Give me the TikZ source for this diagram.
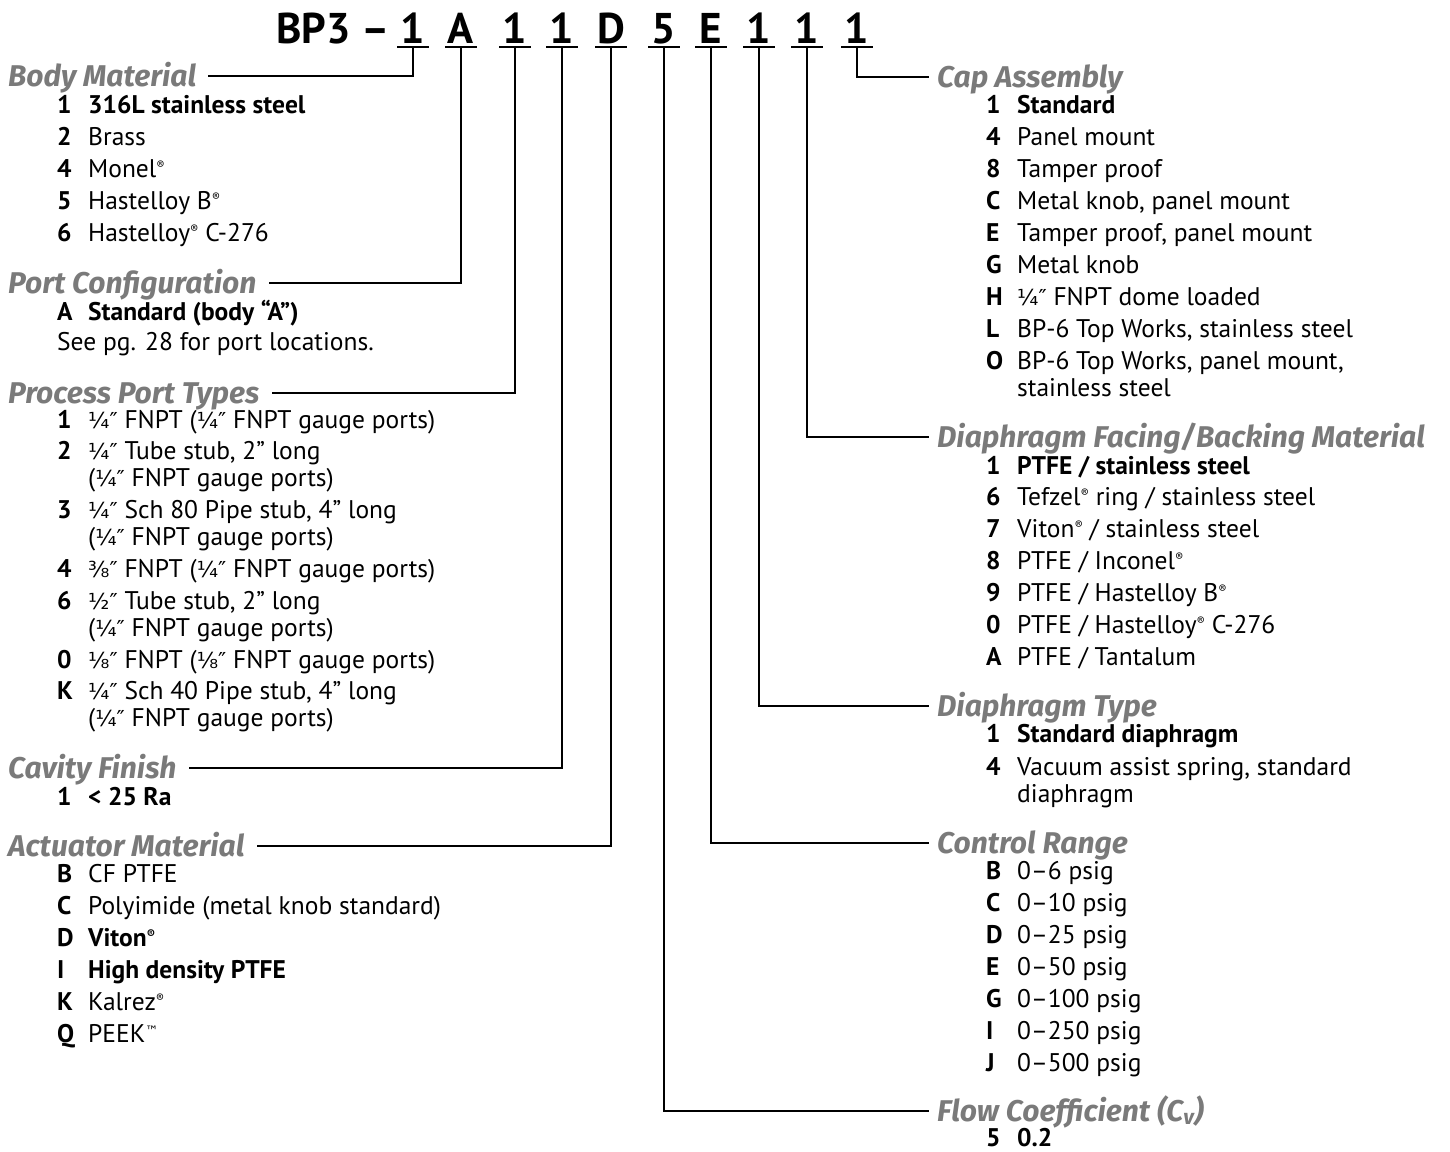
\documentclass[tikz,border=0pt]{standalone}
\usepackage{fontspec}
\usepackage{graphicx}
\setmainfont{PT Sans}
\newfontfamily\headfont{Fira Sans}
\newfontfamily\symfont{DejaVu Sans}
\usetikzlibrary{positioning,calc}
\definecolor{headgray}{RGB}{122,122,122}
\newcommand{\frc}[1]{{\symfont\fontsize{22}{22}\selectfont #1″}}
\newcommand{\reg}{\raisebox{0.6ex}{\fontsize{12}{12}\selectfont ®}}
\newcommand{\tmk}{\raisebox{0.55ex}{{\symfont\fontsize{13}{13}\selectfont ™}}}

\tikzset{
  code/.style={font=\fontsize{43}{43}\bfseries\selectfont, anchor=base, inner sep=0pt, outer sep=0pt, text depth=4pt, minimum width=32pt},
  head/.style={font=\headfont\fontsize{30}{30}\bfseries\itshape\selectfont, text=headgray, anchor=base west, inner sep=0pt},
  key/.style={font=\fontsize{25.5}{25.5}\bfseries\selectfont, anchor=base west, inner sep=0pt},
  item/.style={font=\fontsize{25.5}{25.5}\selectfont, anchor=base west, inner sep=0pt},
  link/.style={line width=1.8pt},
}

\begin{document}
\begin{tikzpicture}[x=1pt,y=-1pt]
    \useasboundingbox (0,0) rectangle (1450,1151);
    % Part number
    \node[code, anchor=base west, minimum width=0pt] (bp) at (276,43) {BP3 –};
    \foreach \n/\c/\x in {c1/1/413, c2/A/461, c3/1/515, c4/1/562, c5/D/611, c6/5/664, c7/E/711, c8/1/759, c9/1/807, c10/1/857} {
        \node[code] (\n) at (\x,43) {\c};
        \draw[link] (\n.south west) -- (\n.south east);
    }

    % Body Material
    \node[head] (hBody) at (8,86) {Body Material};
    \foreach \k/\t/\y in {1/{\bfseries 316L stainless steel}/113, 2/Brass/145, 4/Monel\reg/177, 5/Hastelloy B\reg/209, 6/Hastelloy\reg{} C-276/241} {
        \node[key] (body-\k) at (57,\y) {\k};
        \node[item] (body-\k-t) at (88,\y) {\t};
    }

    % Port Configuration
    \node[head] (hPort) at (8,293) {Port Configuration};
    \node[key] (port-A) at (57,320) {A};
    \node[item, font=\fontsize{25.5}{25.5}\bfseries\selectfont] (port-A-t) at (88,320) {Standard (body “A”)};
    \node[item] (port-note) at (57,350) {See pg. 28 for port locations.};

    % Process Port Types
    \node[head] (hProc) at (8,403) {Process Port Types};
    \foreach \k/\t/\y in {1/{\frc{¼} FNPT (\frc{¼} FNPT gauge ports)}/428, 2/{\frc{¼} Tube stub, 2” long}/459, 3/{\frc{¼} Sch 80 Pipe stub, 4” long}/518, 4/{\frc{⅜} FNPT (\frc{¼} FNPT gauge ports)}/577, 6/{\frc{½} Tube stub, 2” long}/609, 0/{\frc{⅛} FNPT (\frc{⅛} FNPT gauge ports)}/668, K/{\frc{¼} Sch 40 Pipe stub, 4” long}/699} {
        \node[key] (proc-\k) at (57,\y) {\k};
        \node[item] (proc-\k-t) at (88,\y) {\t};
    }
    \node[item] (proc-2-u) at (88,486) {(\frc{¼} FNPT gauge ports)};
    \node[item] (proc-3-u) at (88,545) {(\frc{¼} FNPT gauge ports)};
    \node[item] (proc-6-u) at (88,636) {(\frc{¼} FNPT gauge ports)};
    \node[item] (proc-K-u) at (88,726) {(\frc{¼} FNPT gauge ports)};

    % Cavity Finish
    \node[head] (hCav) at (8,778) {Cavity Finish};
    \node[key] (cav-1) at (57,805) {1};
    \node[key] (cav-1-t) at (88,805) {< 25 Ra};

    % Actuator Material
    \node[head] (hAct) at (8,856) {Actuator Material};
    \foreach \k/\t/\y in {B/CF PTFE/882, C/Polyimide (metal knob standard)/914, D/{\bfseries Viton\reg}/946, I/{\bfseries High density PTFE}/978, K/Kalrez\reg/1010, Q/PEEK\tmk/1042} {
        \node[key] (act-\k) at (57,\y) {\k};
        \node[item] (act-\k-t) at (88,\y) {\t};
    }

    % Cap Assembly
    \node[head] (hCap) at (937,87) {Cap Assembly};
    \foreach \k/\t/\y in {1/{\bfseries Standard}/113, 4/Panel mount/145, 8/Tamper proof/177, C/{Metal knob, panel mount}/209, E/{Tamper proof, panel mount}/241, G/Metal knob/273, H/{\frc{¼} FNPT dome loaded}/305, L/{BP-6 Top Works, stainless steel}/337, O/{BP-6 Top Works, panel mount,}/369} {
        \node[key] (cap-\k) at (986,\y) {\k};
        \node[item] (cap-\k-t) at (1017,\y) {\t};
    }
    \node[item] (cap-O-u) at (1017,396) {stainless steel};

    % Diaphragm Facing/Backing Material
    \node[head] (hFace) at (937,447) {Diaphragm Facing/Backing Material};
    \foreach \k/\t/\y in {1/{\bfseries PTFE / stainless steel}/474, 6/{Tefzel\reg{} ring / stainless steel}/505, 7/{Viton\reg{} / stainless steel}/537, 8/{PTFE / Inconel\reg}/569, 9/{PTFE / Hastelloy B\reg}/601, 0/{PTFE / Hastelloy\reg{} C-276}/633, A/{PTFE / Tantalum}/665} {
        \node[key] (face-\k) at (986,\y) {\k};
        \node[item] (face-\k-t) at (1017,\y) {\t};
    }

    % Diaphragm Type
    \node[head] (hType) at (937,716) {Diaphragm Type};
    \node[key] (type-1) at (986,742) {1};
    \node[key] (type-1-t) at (1017,742) {Standard diaphragm};
    \node[key] (type-4) at (986,775) {4};
    \node[item] (type-4-t) at (1017,775) {Vacuum assist spring, standard};
    \node[item] (type-4-u) at (1017,802) {diaphragm};

    % Control Range
    \node[head] (hCtrl) at (937,853) {Control Range};
    \foreach \k/\t/\y in {B/0–6 psig/879, C/0–10 psig/911, D/0–25 psig/943, E/0–50 psig/975, G/0–100 psig/1007, I/0–250 psig/1039, J/0–500 psig/1071} {
        \node[key] (ctrl-\k) at (986,\y) {\k};
        \node[item] (ctrl-\k-t) at (1017,\y) {\t};
    }

    % Flow Coefficient
    \node[head] (hFlow) at (937,1121) {Flow Coefficient (C\textsubscript{v})};
    \node[key] (flow-5) at (986,1146) {5};
    \node[key] (flow-5-t) at (1017,1146) {0.2};

    % Connectors
    \draw[link] (c1.south) |- ([shift={(12,-10)}]hBody.base east);
    \draw[link] (c2.south) |- ([shift={(12,-10)}]hPort.base east);
    \draw[link] (c3.south) |- ([shift={(12,-10)}]hProc.base east);
    \draw[link] (c4.south) |- ([shift={(12,-10)}]hCav.base east);
    \draw[link] (c5.south) |- ([shift={(12,-10)}]hAct.base east);
    \draw[link] (c6.south) |- ([shift={(-8,-10)}]hFlow.base west);
    \draw[link] (c7.south) |- ([shift={(-8,-10)}]hCtrl.base west);
    \draw[link] (c8.south) |- ([shift={(-8,-10)}]hType.base west);
    \draw[link] (c9.south) |- ([shift={(-8,-10)}]hFace.base west);
    \draw[link] (c10.south) |- ([shift={(-8,-10)}]hCap.base west);
\end{tikzpicture}
\end{document}
